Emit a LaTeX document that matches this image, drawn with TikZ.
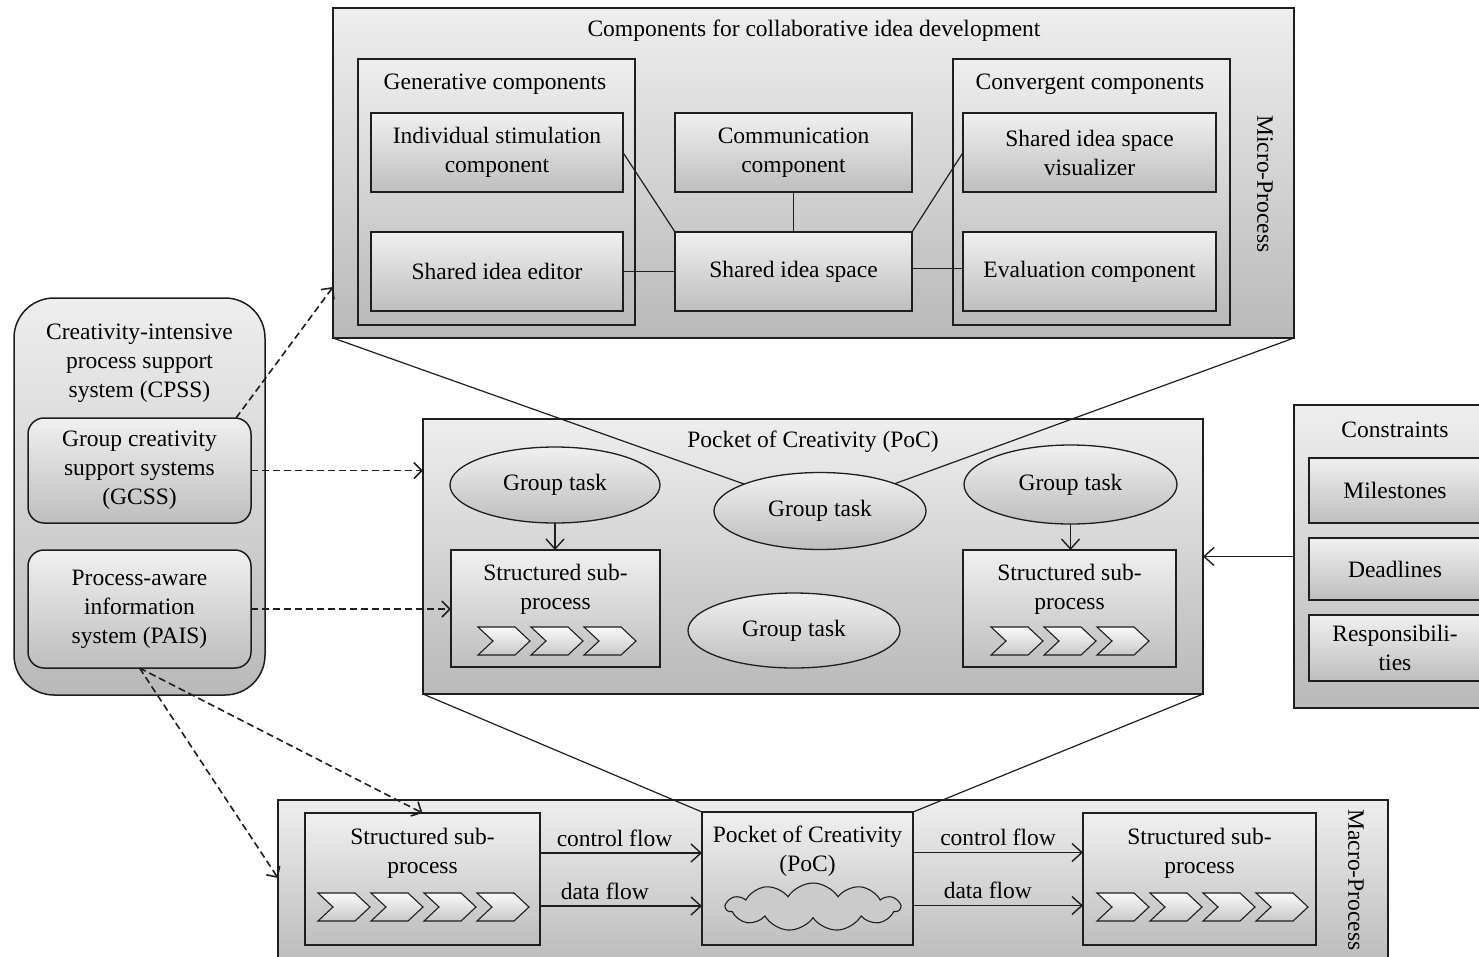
\documentclass[tikz,border=0pt]{standalone}
\usepackage{fontspec}
\setmainfont{Liberation Serif}
\usetikzlibrary{arrows.meta,shapes.geometric,shapes.symbols,shadings}
\definecolor{shadetop}{HTML}{F0F0F0}
\definecolor{shadebot}{HTML}{BEBEBE}
\definecolor{panetop}{HTML}{EEEEEE}
\definecolor{panebot}{HTML}{B9B9B9}
\definecolor{chevtop}{HTML}{FAFAFA}
\definecolor{chevbot}{HTML}{C8C8C8}
\definecolor{framecol}{HTML}{1E1E1E}
\newcommand{\dfont}{\fontsize{23.5}{29}\selectfont}
% a row of process chevrons: left x, centre y, count
\newcommand{\chevronrow}[3]{%
  \foreach \k in {1,...,#3}{%
    \draw[chev] ({#1+(\k-1)*53},{#2-14}) -- ++(37,0) -- ++(15,14) -- ++(-15,14)
      -- ++(-37,0) -- ++(15,-14) -- cycle;}}
\begin{document}
\begin{tikzpicture}[x=1pt,y=-1pt,
  every node/.style={font=\dfont},
  card/.style={draw=framecol, line width=1.5pt, rectangle, top color=shadetop,
    bottom color=shadebot, inner sep=0pt, outer sep=0pt, align=center},
  pane/.style={card, top color=panetop, bottom color=panebot},
  roundpane/.style={pane, rounded corners=40pt},
  sysbox/.style={card, rounded corners=16pt},
  task/.style={card, ellipse, line width=1.3pt},
  txt/.style={inner sep=0pt, align=center},
  chev/.style={draw=framecol, line width=1.1pt, top color=chevtop, bottom color=chevbot},
  link/.style={draw=framecol, line width=1.2pt},
  dashedarrow/.style={draw=framecol, line width=1.6pt, dash pattern=on 7pt off 4pt,
    -{Straight Barb[length=8pt,width=16pt]}},
  flow/.style={draw=framecol, line width=1.4pt, -{Straight Barb[length=10pt,width=18pt]}}]
\useasboundingbox (0,0) rectangle (1479,956);
\clip (0,0) rectangle (1479,956);

% ---------------- micro-process: collaborative idea development
\node[pane, minimum width=961, minimum height=330] (micro) at (813.5,173) {};
\node[txt] (microtitle) at (814,31) {Components for collaborative idea development};
\node[txt, rotate=-90] (microlabel) at (1265,184) {Micro-Process};

\node[pane, minimum width=277, minimum height=266] (gen) at (496.5,192) {};
\node[txt] (gentitle) at (495,84) {Generative components};
\node[card, minimum width=252, minimum height=79] (isc) at (497,152.5) {Individual stimulation\\component};
\node[card, minimum width=252, minimum height=79] (sie) at (497,271.5) {Shared idea editor};

\node[card, minimum width=237, minimum height=79] (comm) at (793.5,152.5) {Communication\\component};
\node[card, minimum width=237, minimum height=79] (sis) at (793.5,271.5) {Shared idea space};

\node[pane, minimum width=277, minimum height=266] (conv) at (1091.5,192) {};
\node[txt] (convtitle) at (1090,84) {Convergent components};
\node[card, minimum width=253, minimum height=79] (sisv) at (1089.5,152.5) {Shared idea space\\visualizer};
\node[card, minimum width=253, minimum height=79] (evalc) at (1089.5,271.5) {Evaluation component};

\draw[link] (isc.east) -- (sis.north west);
\draw[link] (comm.south) -- (sis.north);
\draw[link] (sis.north east) -- (sisv.west);
\draw[link] (sie.east) -- (sis.west);
\draw[link] ([yshift=3pt]sis.east) -- ([yshift=3pt]sis.east -| evalc.west);

% ---------------- support systems
\node[roundpane, minimum width=251, minimum height=397] (cpss) at (139.5,496.5) {};
\node[txt] (cpsstitle) at (139.5,363) {Creativity-intensive\\process support\\system (CPSS)};
\node[sysbox, minimum width=223, minimum height=105] (gcss) at (139.5,470.5) {Group creativity\\support systems\\(GCSS)};
\node[sysbox, minimum width=223, minimum height=118] (pais) at (139.5,609) {Process-aware\\information\\system (PAIS)};

% ---------------- pocket of creativity
\node[pane, minimum width=780, minimum height=275] (poc) at (813,556.5) {};
\node[txt] (poctitle) at (813,442) {Pocket of Creativity (PoC)};
\node[task, minimum width=210, minimum height=76] (gt1) at (555,485) {Group task};
\node[task, minimum width=212, minimum height=77] (gt2) at (820,511) {Group task};
\node[task, minimum width=212, minimum height=75] (gt3) at (794,630.5) {Group task};
\node[task, minimum width=213, minimum height=79] (gt4) at (1070.5,484.5) {Group task};
\node[card, minimum width=209, minimum height=117] (sp1) at (555.5,608.5) {};
\node[txt] (sp1t) at (555.5,589) {Structured sub-\\process};
\chevronrow{478}{641}{3}
\node[card, minimum width=213, minimum height=117] (sp2) at (1069.5,608.5) {};
\node[txt] (sp2t) at (1069.5,589) {Structured sub-\\process};
\chevronrow{991}{641}{3}
\draw[flow] (gt1.south) -- (gt1.south |- sp1.north);
\draw[flow] (gt4.south) -- (gt4.south |- sp2.north);

\draw[link] (micro.south west) -- (gt2);
\draw[link] (micro.south east) -- (gt2);

% ---------------- constraints
\node[pane, minimum width=202, minimum height=303] (cons) at (1395,556.5) {};
\node[txt] (constitle) at (1395,430) {Constraints};
\node[card, minimum width=172, minimum height=65] (mil) at (1395,490.5) {Milestones};
\node[card, minimum width=172, minimum height=62] (dead) at (1395,569) {Deadlines};
\node[card, minimum width=172, minimum height=66] (resp) at (1395,648) {Responsibili-\\ties};
\draw[flow] (cons.west) -- (cons.west -| poc.east);

% ---------------- macro-process
\node[pane, minimum width=1110, minimum height=172] (macro) at (833,886) {};
\node[txt, rotate=-90] (macrolabel) at (1356,880) {Macro-Process};
\node[card, minimum width=235, minimum height=132] (msp1) at (422.5,879) {};
\node[txt] (msp1t) at (422.5,853) {Structured sub-\\process};
\chevronrow{318}{907}{4}
\node[card, minimum width=211, minimum height=133] (mpoc) at (807.5,878.5) {};
\node[txt] (mpoct) at (807.5,851) {Pocket of Creativity\\(PoC)};
\node[cloud, cloud puffs=11, cloud puff arc=115, aspect=3.6, draw=framecol, line width=1.1pt,
  fill=shadebot!80, minimum width=174, minimum height=48, inner sep=0pt] (cloud) at (813,907) {};
\node[card, minimum width=233, minimum height=132] (msp2) at (1199.5,879) {};
\node[txt] (msp2t) at (1199.5,853) {Structured sub-\\process};
\chevronrow{1097}{907}{4}

\draw[flow] ([yshift=26pt]msp1.east) -- node[pos=0.46, above=6pt, txt] (cf1) {control flow}
  ([yshift=26pt]msp1.east -| mpoc.west);
\draw[flow] ([yshift=-27pt]msp1.east) -- node[pos=0.4, above=6pt, txt] (df1) {data flow}
  ([yshift=-27pt]msp1.east -| mpoc.west);
\draw[flow] ([yshift=26pt]mpoc.east) -- node[pos=0.5, above=6pt, txt] (cf2) {control flow}
  ([yshift=26pt]mpoc.east -| msp2.west);
\draw[flow] ([yshift=-27pt]mpoc.east) -- node[pos=0.44, above=6pt, txt] (df2) {data flow}
  ([yshift=-27pt]mpoc.east -| msp2.west);

\draw[link] (poc.south west) -- (mpoc.north west);
\draw[link] (poc.south east) -- (mpoc.north east);

% ---------------- support relations
\draw[dashedarrow] ([xshift=-15pt]gcss.north east) -- ([yshift=51pt]micro.south west);
\draw[dashedarrow] (gcss.east) -- (gcss.east -| poc.west);
\draw[dashedarrow] (pais.east) -- (pais.east -| sp1.west);
\draw[dashedarrow] (pais.south) -- (msp1.north);
\draw[dashedarrow] (pais.south) -- ([yshift=8pt]macro.west);
\end{tikzpicture}
\end{document}
